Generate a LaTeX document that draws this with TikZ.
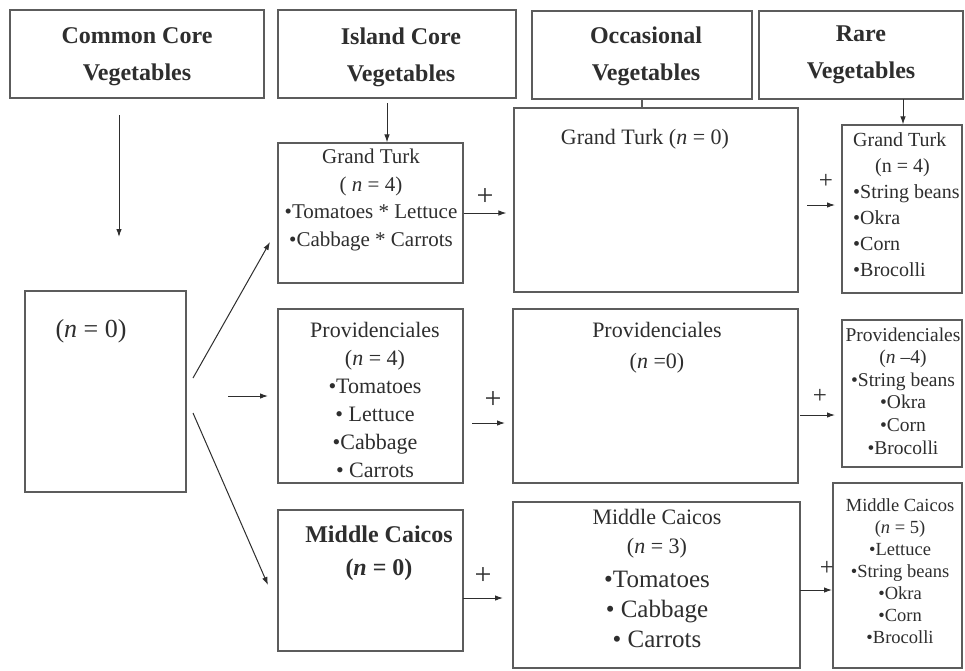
\documentclass[tikz,border=0pt]{standalone}
\usepackage{fontspec}
\setmainfont{Liberation Serif}
\usetikzlibrary{arrows.meta}
\definecolor{ink}{HTML}{2E2E2E}
\definecolor{rule}{HTML}{5C5C5C}
\newcommand\hdfont{\fontsize{24}{37}\selectfont\bfseries}
\begin{document}
\begin{tikzpicture}[x=1pt,y=-1pt,
  box/.style={draw=rule, line width=1.2pt, inner sep=0pt, rectangle},
  txt/.style={text=ink, inner sep=0pt, align=center},
  arr/.style={draw=ink, line width=1pt, -{Latex[length=8pt,width=5.5pt]}},
  ln/.style={draw=rule, line width=1.1pt},
  plus/.style={text=ink, inner sep=0pt, font=\fontsize{30}{30}\selectfont},
  smallplus/.style={text=ink, inner sep=0pt, font=\fontsize{25}{25}\selectfont}]
\useasboundingbox[fill=white] (0,0) rectangle (965,670);

% ---------- column headers ----------
\node[box, minimum width=254pt, minimum height=88pt] (hcommon) at (137,54) {};
\node[box, minimum width=238pt, minimum height=88pt] (hisland) at (397,54) {};
\node[box, minimum width=220pt, minimum height=88pt] (hocc)    at (642,55) {};
\node[box, minimum width=204pt, minimum height=88pt] (hrare)   at (861,55) {};
\node[txt, font=\hdfont] (hcommonT) at (137,57) {Common Core\\Vegetables};
\node[txt, font=\hdfont] (hislandT) at (401,57) {Island Core\\Vegetables};
\node[txt, font=\hdfont] (hoccT)    at (646,56) {Occasional\\Vegetables};
\node[txt, font=\hdfont] (hrareT)   at (861,55) {Rare\\Vegetables};

% ---------- common core ----------
\node[box, minimum width=161pt, minimum height=201pt] (core) at (105.5,391.5) {};
\node[txt, font=\fontsize{26}{30}\selectfont] (coreT) at (91,331) {(\textit{n} = 0)};

% ---------- island core ----------
\node[box, minimum width=185pt, minimum height=140pt] (islGT) at (370.5,213) {};
\node[txt, font=\fontsize{21}{27.7}\selectfont] (islGTT) at (371,200)
  {Grand Turk\\( \textit{n} = 4)\\•Tomatoes * Lettuce\\•Cabbage * Carrots};

\node[box, minimum width=185pt, minimum height=174pt] (islProv) at (370.5,396) {};
\node[txt, font=\fontsize{22}{28}\selectfont] (islProvT) at (375,400)
  {Providenciales\\(\textit{n} = 4)\\•Tomatoes\\• Lettuce\\•Cabbage\\• Carrots};

\node[box, minimum width=185pt, minimum height=141pt] (islMC) at (370.5,580.5) {};
\node[txt, font=\fontsize{24}{33}\selectfont\bfseries] (islMCT) at (379,553)
  {Middle Caicos\\(\textit{n} = 0)};

% ---------- occasional ----------
\node[box, minimum width=284pt, minimum height=184pt] (occGT) at (656,200) {};
\node[txt, font=\fontsize{22}{28}\selectfont] (occGTT) at (645,139)
  {Grand Turk (\textit{n} = 0)};

\node[box, minimum width=285pt, minimum height=174pt] (occProv) at (655.5,396) {};
\node[txt, font=\fontsize{22}{31}\selectfont] (occProvT) at (657,348)
  {Providenciales\\(\textit{n} =0)};

\node[box, minimum width=287pt, minimum height=166pt] (occMC) at (656.5,585) {};
\node[txt, font=\fontsize{22}{29}\selectfont] (occMCT) at (657,534)
  {Middle Caicos\\(\textit{n} = 3)};
\node[txt, font=\fontsize{25}{30}\selectfont] (occMCL) at (657,609)
  {•Tomatoes\\• Cabbage\\• Carrots};

% ---------- rare ----------
\node[box, minimum width=120pt, minimum height=168pt] (rareGT) at (902,209) {};
\node[txt, align=left, anchor=west, font=\fontsize{20}{26}\selectfont] (rareGTT) at (853,205)
  {Grand Turk\\\hspace*{22pt}(n = 4)\\•String beans\\•Okra\\•Corn\\•Brocolli};

\node[box, minimum width=120pt, minimum height=147pt] (rareProv) at (902,393.5) {};
\node[txt, font=\fontsize{19.5}{22.6}\selectfont] (rareProvT) at (903,391)
  {Providenciales\\(\textit{n} –4)\\•String beans\\•Okra\\•Corn\\•Brocolli};

\node[box, minimum width=129pt, minimum height=185pt] (rareMC) at (897.5,575.5) {};
\node[txt, font=\fontsize{18.5}{22}\selectfont] (rareMCT) at (900,571)
  {Middle Caicos\\(\textit{n} = 5)\\•Lettuce\\•String beans\\•Okra\\•Corn\\•Brocolli};

% ---------- header connectors ----------
\coordinate (coreTop) at (119,115);
\coordinate (coreDown) at (119,237);
\draw[arr] (coreTop) -- (coreDown);
\coordinate (islTick) at (387,103);
\draw[arr] (islTick) -- (islTick |- islGT.north);
\draw[ln] (hocc.south) -- (hocc.south |- occGT.north);
\coordinate (rareTick) at (903,99);
\draw[arr] (rareTick) -- (rareTick |- rareGT.north);

% ---------- fan out of the common core ----------
\coordinate (fanA) at (193,378);  \coordinate (fanAend) at (270,242);
\coordinate (fanB) at (228,396);  \coordinate (fanBend) at (268,396);
\coordinate (fanC) at (193,413);  \coordinate (fanCend) at (268,585);
\draw[arr] (fanA) -- (fanAend);
\draw[arr] (fanB) -- (fanBend);
\draw[arr] (fanC) -- (fanCend);

% ---------- island core to occasional ----------
\draw[arr, shorten >=7pt] (islGT.east) -- (islGT.east -| occGT.west);
\node[plus] (plusA1) at (485,197) {+};
\coordinate (pA) at (472,423); \coordinate (pB) at (505,423);
\draw[arr] (pA) -- (pB);
\node[plus] (plusA2) at (493,400) {+};
\coordinate (mA) at (463,598); \coordinate (mB) at (503,598);
\draw[arr] (mA) -- (mB);
\node[plus] (plusA3) at (483,576) {+};

% ---------- occasional to rare ----------
\coordinate (gC) at (807,205); \coordinate (gD) at (835,205);
\draw[arr] (gC) -- (gD);
\node[smallplus] (plusB1) at (826,181) {+};
\coordinate (pC) at (800,415); \coordinate (pD) at (835,415);
\draw[arr] (pC) -- (pD);
\node[smallplus] (plusB2) at (820,396) {+};
\coordinate (mC) at (800,590); \coordinate (mD) at (832,590);
\draw[arr] (mC) -- (mD);
\node[smallplus] (plusB3) at (827,568) {+};
\end{tikzpicture}
\end{document}
